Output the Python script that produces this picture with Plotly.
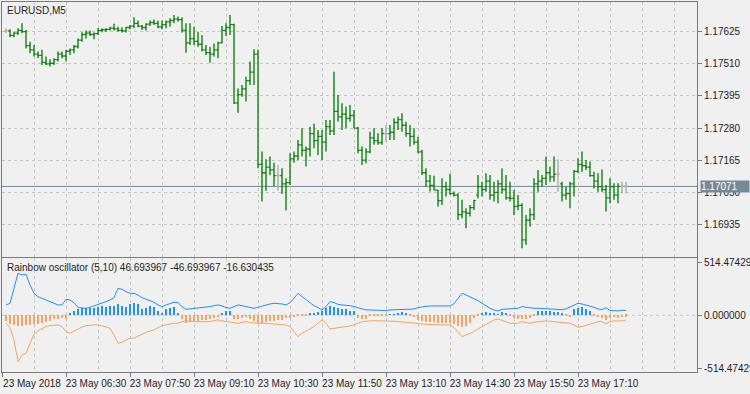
import plotly.graph_objects as go

symbol_title = "EURUSD,M5"
indicator_title = "Rainbow oscillator (5,10) 46.693967 -46.693967 -16.630435"

bar_open = [
    1.17628, 1.17628, 1.17612, 1.17620, 1.17630, 1.17625, 1.17575, 1.17560, 1.17545, 1.17540,
    1.17515, 1.17510, 1.17512, 1.17525, 1.17545, 1.17538, 1.17555, 1.17560, 1.17572, 1.17595,
    1.17615, 1.17620, 1.17615, 1.17618, 1.17630, 1.17632, 1.17633, 1.17638, 1.17635, 1.17630,
    1.17628, 1.17640, 1.17645, 1.17655, 1.17645, 1.17640, 1.17652, 1.17658, 1.17655, 1.17642,
    1.17650, 1.17660, 1.17665, 1.17670, 1.17668, 1.17630, 1.17585, 1.17600, 1.17590, 1.17580,
    1.17560, 1.17550, 1.17545, 1.17560, 1.17585, 1.17630, 1.17640, 1.17650, 1.17370, 1.17400,
    1.17420, 1.17450, 1.17480, 1.17545, 1.17150, 1.17120, 1.17140, 1.17130, 1.17110, 1.17110,
    1.17080, 1.17085, 1.17170, 1.17180, 1.17220, 1.17200, 1.17205, 1.17260, 1.17235, 1.17250,
    1.17230, 1.17285, 1.17270, 1.17340, 1.17320, 1.17330, 1.17315, 1.17325, 1.17280, 1.17200,
    1.17165, 1.17195, 1.17245, 1.17235, 1.17228, 1.17260, 1.17260, 1.17265, 1.17300, 1.17310,
    1.17290, 1.17260, 1.17250, 1.17230, 1.17195, 1.17120, 1.17090, 1.17075, 1.17058, 1.17020,
    1.17070, 1.17060, 1.17045, 1.17040, 1.16970, 1.16980, 1.16975, 1.16995, 1.17040, 1.17070,
    1.17060, 1.17090, 1.17040, 1.17050, 1.17080, 1.17060, 1.17030, 1.17028, 1.17000, 1.17003,
    1.16880, 1.16950, 1.16970, 1.17080, 1.17090, 1.17100, 1.17120, 1.17105, 1.17115, 1.17080,
    1.17040, 1.17045, 1.17080, 1.17125, 1.17150, 1.17145, 1.17140, 1.17110, 1.17090, 1.17070,
    1.17060, 1.17030, 1.17070, 1.17040, 1.17071, 1.17071,
]
bar_high = [
    1.17637, 1.17634, 1.17625, 1.17637, 1.17655, 1.17631, 1.17589, 1.17577, 1.17554, 1.17560,
    1.17536, 1.17526, 1.17530, 1.17554, 1.17554, 1.17560, 1.17565, 1.17577, 1.17601, 1.17623,
    1.17629, 1.17629, 1.17622, 1.17637, 1.17637, 1.17637, 1.17643, 1.17653, 1.17643, 1.17641,
    1.17643, 1.17649, 1.17677, 1.17665, 1.17649, 1.17655, 1.17665, 1.17669, 1.17665, 1.17665,
    1.17665, 1.17673, 1.17685, 1.17679, 1.17677, 1.17655, 1.17655, 1.17643, 1.17625, 1.17613,
    1.17577, 1.17571, 1.17583, 1.17589, 1.17645, 1.17655, 1.17685, 1.17653, 1.17422, 1.17434,
    1.17464, 1.17518, 1.17562, 1.17560, 1.17196, 1.17168, 1.17178, 1.17156, 1.17148, 1.17136,
    1.17100, 1.17190, 1.17196, 1.17237, 1.17279, 1.17214, 1.17285, 1.17295, 1.17273, 1.17273,
    1.17309, 1.17309, 1.17482, 1.17398, 1.17369, 1.17357, 1.17363, 1.17345, 1.17285, 1.17214,
    1.17208, 1.17267, 1.17279, 1.17261, 1.17279, 1.17291, 1.17291, 1.17315, 1.17321, 1.17333,
    1.17303, 1.17291, 1.17279, 1.17249, 1.17202, 1.17136, 1.17112, 1.17109, 1.17058, 1.17100,
    1.17088, 1.17116, 1.17053, 1.17047, 1.17023, 1.16993, 1.17005, 1.17023, 1.17112, 1.17088,
    1.17118, 1.17112, 1.17088, 1.17094, 1.17136, 1.17112, 1.17088, 1.17058, 1.17040, 1.17011,
    1.16969, 1.16993, 1.17100, 1.17130, 1.17112, 1.17178, 1.17142, 1.17178, 1.17168, 1.17088,
    1.17070, 1.17088, 1.17130, 1.17172, 1.17196, 1.17166, 1.17160, 1.17124, 1.17118, 1.17132,
    1.17076, 1.17100, 1.17082, 1.17082, 1.17088, 1.17088,
]
bar_low = [
    1.17619, 1.17605, 1.17605, 1.17613, 1.17619, 1.17565, 1.17548, 1.17536, 1.17530, 1.17506,
    1.17506, 1.17500, 1.17506, 1.17518, 1.17530, 1.17518, 1.17542, 1.17548, 1.17565, 1.17589,
    1.17601, 1.17610, 1.17598, 1.17613, 1.17623, 1.17625, 1.17629, 1.17629, 1.17625, 1.17622,
    1.17622, 1.17634, 1.17637, 1.17641, 1.17631, 1.17629, 1.17645, 1.17649, 1.17637, 1.17634,
    1.17637, 1.17643, 1.17655, 1.17661, 1.17622, 1.17550, 1.17577, 1.17577, 1.17571, 1.17554,
    1.17542, 1.17514, 1.17536, 1.17530, 1.17583, 1.17610, 1.17613, 1.17366, 1.17335, 1.17392,
    1.17375, 1.17434, 1.17434, 1.17136, 1.17017, 1.17056, 1.17112, 1.17073, 1.17056, 1.17044,
    1.16985, 1.17076, 1.17156, 1.17166, 1.17178, 1.17142, 1.17178, 1.17208, 1.17184, 1.17166,
    1.17196, 1.17255, 1.17255, 1.17303, 1.17273, 1.17279, 1.17303, 1.17279, 1.17190, 1.17148,
    1.17154, 1.17190, 1.17220, 1.17220, 1.17220, 1.17231, 1.17237, 1.17237, 1.17273, 1.17267,
    1.17249, 1.17214, 1.17220, 1.17190, 1.17112, 1.17070, 1.17053, 1.17058, 1.16999, 1.17005,
    1.17035, 1.17041, 1.17035, 1.16951, 1.16957, 1.16921, 1.16963, 1.16987, 1.17029, 1.17035,
    1.17052, 1.17023, 1.17017, 1.17011, 1.17046, 1.17023, 1.17017, 1.16969, 1.16987, 1.16850,
    1.16862, 1.16927, 1.16951, 1.17052, 1.17070, 1.17076, 1.17088, 1.17088, 1.17052, 1.17017,
    1.17023, 1.16993, 1.17035, 1.17118, 1.17124, 1.17130, 1.17106, 1.17064, 1.17052, 1.17052,
    1.16981, 1.17011, 1.17023, 1.17011, 1.17046, 1.17046,
]
bar_close = [
    1.17628, 1.17612, 1.17620, 1.17630, 1.17625, 1.17575, 1.17560, 1.17545, 1.17540, 1.17515,
    1.17510, 1.17512, 1.17525, 1.17545, 1.17538, 1.17555, 1.17560, 1.17572, 1.17595, 1.17615,
    1.17620, 1.17615, 1.17618, 1.17630, 1.17632, 1.17633, 1.17638, 1.17635, 1.17630, 1.17628,
    1.17640, 1.17645, 1.17655, 1.17645, 1.17640, 1.17652, 1.17658, 1.17655, 1.17642, 1.17650,
    1.17660, 1.17665, 1.17670, 1.17668, 1.17630, 1.17585, 1.17600, 1.17590, 1.17580, 1.17560,
    1.17550, 1.17545, 1.17560, 1.17585, 1.17630, 1.17640, 1.17650, 1.17370, 1.17400, 1.17420,
    1.17450, 1.17480, 1.17545, 1.17150, 1.17120, 1.17140, 1.17130, 1.17110, 1.17110, 1.17080,
    1.17085, 1.17170, 1.17180, 1.17220, 1.17200, 1.17205, 1.17260, 1.17235, 1.17250, 1.17230,
    1.17285, 1.17270, 1.17340, 1.17320, 1.17330, 1.17315, 1.17325, 1.17280, 1.17200, 1.17165,
    1.17195, 1.17245, 1.17235, 1.17228, 1.17260, 1.17260, 1.17265, 1.17300, 1.17310, 1.17290,
    1.17260, 1.17250, 1.17230, 1.17195, 1.17120, 1.17090, 1.17075, 1.17058, 1.17020, 1.17070,
    1.17060, 1.17045, 1.17040, 1.16970, 1.16980, 1.16975, 1.16995, 1.17020, 1.17070, 1.17060,
    1.17090, 1.17040, 1.17050, 1.17080, 1.17060, 1.17030, 1.17028, 1.17000, 1.17003, 1.16880,
    1.16950, 1.16970, 1.17080, 1.17090, 1.17100, 1.17120, 1.17105, 1.17115, 1.17115, 1.17040,
    1.17045, 1.17080, 1.17125, 1.17150, 1.17145, 1.17140, 1.17110, 1.17090, 1.17070, 1.17060,
    1.17030, 1.17070, 1.17040, 1.17071, 1.17071, 1.17071,
]

osc_upper = [
    100.8, 117, 263, 409.5, 393, 400, 296, 214.5, 182, 166,
    149.5, 133, 123.5, 100.8, 100.8, 156, 149.5, 123.5, 75, 68,
    68, 78, 91, 101, 114, 133, 149.5, 172, 263, 253.5,
    231, 214.5, 214.5, 198, 172, 156, 140, 127, 101, 84.5,
    101, 117, 127, 123.5, 84.5, 58.5, 62, 68, 75, 78,
    78, 84.5, 94, 101, 91, 75, 68, 84.5, 101, 94,
    84.5, 75, 68, 78, 91, 101, 110.5, 117, 117, 110.5,
    101, 123.5, 166, 214.5, 182, 149.5, 117, 94, 75, 52,
    84.5, 133, 123.5, 107, 101, 101, 94, 84.5, 75, 62,
    52, 52, 49, 45.5, 42, 45.5, 52, 55, 58.5, 58.5,
    58.5, 58.5, 62, 75, 84.5, 88, 91, 91, 91, 91,
    91, 91, 114, 166, 214.5, 198, 182, 166, 143, 117,
    91, 68, 52, 42, 58.5, 62, 68, 68, 68, 84.5,
    78, 68, 68, 68, 65, 62, 62, 58.5, 52, 55,
    62, 78, 94, 117, 110.5, 101, 91, 78, 62, 55,
    75, 45.5, 45.5, 42, 49, 46.693967,
]
osc_lower = [
    -78, -120, -240.5, -452, -387, -370.5, -273, -185, -153, -133,
    -110.5, -101, -94, -94, -110.5, -159, -175.5, -153, -133, -114,
    -101, -94, -94, -94, -101, -114, -127, -192, -273, -263,
    -240.5, -224, -224, -208, -185, -166, -153, -143, -120, -101,
    -94, -84.5, -78, -78, -62, -55, -62, -62, -62, -62,
    -62, -62, -52, -45.5, -55, -62, -62, -71.5, -78, -68,
    -62, -71.5, -78, -78, -78, -78, -78, -84.5, -88, -94,
    -94, -110.5, -159, -208, -175.5, -153, -127, -110.5, -78, -45.5,
    -78, -133, -127, -120, -110.5, -110.5, -104, -94, -78, -62,
    -62, -55, -52, -52, -52, -55, -55, -58.5, -62, -62,
    -68, -71.5, -78, -81, -84.5, -88, -91, -94, -94, -94,
    -94, -94, -120, -159, -208, -192, -175.5, -159, -133, -110.5,
    -88, -62, -45.5, -36, -52, -62, -78, -78, -78, -62,
    -68, -78, -68, -62, -58.5, -55, -58.5, -62, -65, -68,
    -71.5, -78, -94, -117, -110.5, -101, -88, -75, -62, -62,
    -84.5, -62, -55, -55, -55, -46.693967,
]
osc_hist = [
    -62, -94, -101, -110.5, -110.5, -104, -101, -94, -88, -78,
    -71.5, -62, -45.5, -36, -29, -45.5, 10, 42, 58.5, 62,
    62, 62, 68, 75, 84.5, 75, 84.5, 84.5, 101, 84.5,
    75, 101, 117, 101, 52, 68, 84.5, 75, 36, 19.5,
    52, 68, 75, 19.5, -36, -78, -71.5, -62, -62, -55,
    -52, -45.5, -29, -23, 10, 36, 42, -36, -45.5, -29,
    -23, -45.5, -62, -78, -78, -71.5, -62, -62, -55, -49,
    -29, -29, -23, -13, -3, -13, 10, 19.5, 29, 36,
    68, 84.5, 75, 68, 58.5, 52, 42, 36, -29, -45.5,
    -36, -13, -10, -10, -6.5, -3, 1, 3, 19.5, 29,
    19.5, -3, -23, -55, -62, -68, -71.5, -71.5, -78, -78,
    -81, -78, -88, -110.5, -120, -110.5, -78, -29, -3, 10,
    26, 19.5, 10, 3, 23, 16, -3, -29, -45.5, -45.5,
    -39, -29, -16, 36, 42, 36, 42, 29, 26, 10,
    -10, -19.5, 52, 68, 75, 52, 36, -3, -19.5, -29,
    -49, -29, -19.5, -29, -23, -16.630435,
]

price_ticks = [1.17625, 1.17510, 1.17395, 1.17280, 1.17165, 1.17050, 1.16935]
osc_ticks = [514.474292, 0.0, -514.474292]
time_labels = ["23 May 2018", "23 May 06:30", "23 May 07:50", "23 May 09:10",
               "23 May 10:30", "23 May 11:50", "23 May 13:10", "23 May 14:30",
               "23 May 15:50", "23 May 17:10"]
time_label_bars = [-1, 15, 31, 47, 63, 79, 95, 111, 127, 143]
last_price = 1.17071

# ---- styling ----
BG = "#f0f0f0"
FRAME = "#7a7a7a"
GRID = "#c6c6c6"
GREEN = "#007a00"
NEUTRAL = "#a8a8a8"
BLUE = "#1E90FF"
ORANGE = "#F4A460"
PRICE_LINE = "#778899"
FONT = "Liberation Sans, Arial, sans-serif"
TXT = "#1e1e1e"

n = len(bar_close)
idx = list(range(n))
x_range = [-1, 172.75]
grid_bars = list(range(7, 172, 8))

trend_idx = [i for i in idx if bar_open[i] != bar_close[i]]
flat_idx = [i for i in idx if bar_open[i] == bar_close[i]]

fig = go.Figure()
fig.add_trace(go.Ohlc(
    x=trend_idx,
    open=[bar_open[i] for i in trend_idx], high=[bar_high[i] for i in trend_idx],
    low=[bar_low[i] for i in trend_idx], close=[bar_close[i] for i in trend_idx],
    increasing=dict(line=dict(color=GREEN, width=1.3)),
    decreasing=dict(line=dict(color=GREEN, width=1.3)),
    tickwidth=0.45, xaxis="x", yaxis="y", hoverinfo="skip"))
fig.add_trace(go.Ohlc(
    x=flat_idx,
    open=[bar_open[i] for i in flat_idx], high=[bar_high[i] for i in flat_idx],
    low=[bar_low[i] for i in flat_idx], close=[bar_close[i] for i in flat_idx],
    increasing=dict(line=dict(color=NEUTRAL, width=1.3)),
    decreasing=dict(line=dict(color=NEUTRAL, width=1.3)),
    tickwidth=0.45, xaxis="x", yaxis="y", hoverinfo="skip"))

fig.add_trace(go.Bar(
    x=idx, y=osc_hist, width=0.5,
    marker=dict(color=[BLUE if v > 0 else ORANGE for v in osc_hist], line=dict(width=0)),
    xaxis="x2", yaxis="y2", hoverinfo="skip"))
fig.add_trace(go.Scatter(x=idx, y=osc_upper, mode="lines", line=dict(color=BLUE, width=1),
                         xaxis="x2", yaxis="y2", hoverinfo="skip"))
fig.add_trace(go.Scatter(x=idx, y=osc_lower, mode="lines", line=dict(color=ORANGE, width=1),
                         xaxis="x2", yaxis="y2", hoverinfo="skip"))

axis_common = dict(showline=True, mirror=True, linecolor=FRAME, linewidth=1,
                   zeroline=False, fixedrange=True, automargin=False)

fig.update_layout(
    width=750, height=394,
    margin=dict(l=2, r=53, t=2, b=22),
    paper_bgcolor=BG, plot_bgcolor=BG,
    showlegend=False,
    font=dict(family=FONT, size=10, color=TXT),
    bargap=0,
    xaxis=dict(domain=[0, 1], anchor="y", range=x_range, tickmode="array",
               tickvals=grid_bars, showticklabels=False, ticks="",
               showgrid=True, gridcolor=GRID, griddash="3px,3px", gridwidth=1,
               rangeslider=dict(visible=False), **axis_common),
    yaxis=dict(domain=[0.3108, 1], anchor="x", side="right",
               range=[1.168184, 1.177313], tickmode="array", tickvals=price_ticks,
               ticktext=[f"{v:.5f}" for v in price_ticks],
               ticks="outside", ticklen=4, tickcolor=FRAME,
               showgrid=True, gridcolor=GRID, griddash="3px,3px", gridwidth=1,
               **axis_common),
    xaxis2=dict(domain=[0, 1], anchor="y2", range=x_range, tickmode="array",
                tickvals=time_label_bars, ticktext=time_labels, tickangle=0,
                ticks="outside", ticklen=4, tickcolor=FRAME, ticklabelshift=30,
                ticklabelstandoff=-2,
                showgrid=True, gridcolor=GRID, griddash="3px,3px", gridwidth=1,
                minor=dict(tickmode="array", tickvals=grid_bars, showgrid=True,
                           gridcolor=GRID, griddash="3px,3px", gridwidth=1, ticks=""),
                rangeslider=dict(visible=False), **axis_common),
    yaxis2=dict(domain=[0, 0.3068], anchor="x2", side="right", range=[-553, 554],
                tickmode="array", tickvals=osc_ticks,
                ticktext=[f"{v:.6f}" for v in osc_ticks],
                ticks="outside", ticklen=4, tickcolor=FRAME, showgrid=False,
                **axis_common),
    shapes=[
        dict(type="line", xref="x2", yref="y2", x0=x_range[0], x1=x_range[1], y0=0, y1=0,
             line=dict(color=GRID, width=1, dash="3px,3px"), layer="below"),
        dict(type="line", xref="x", yref="y", x0=x_range[0], x1=x_range[1],
             y0=last_price, y1=last_price,
             line=dict(color=PRICE_LINE, width=1), layer="below"),
    ],
    annotations=[
        dict(text=symbol_title, xref="paper", yref="paper", x=0, y=1, xanchor="left",
             yanchor="top", xshift=3, yshift=-1, showarrow=False,
             font=dict(family=FONT, size=10, color=TXT)),
        dict(text=indicator_title, xref="paper", yref="paper", x=0, y=0.3068,
             xanchor="left", yanchor="top", xshift=3, yshift=-2, showarrow=False,
             font=dict(family=FONT, size=10, color=TXT)),
        dict(text=f"{last_price:.5f}", xref="paper", yref="y", x=1, y=last_price,
             xanchor="left", yanchor="middle", xshift=3, showarrow=False,
             bgcolor=PRICE_LINE, borderpad=0, width=48, height=11, align="left",
             font=dict(family=FONT, size=10, color="#ffffff")),
    ],
)

fig.write_html(
    "out.html",
    config={"displayModeBar": False},
    post_script="document.body.style.margin='0';document.body.style.overflow='hidden';",
)
